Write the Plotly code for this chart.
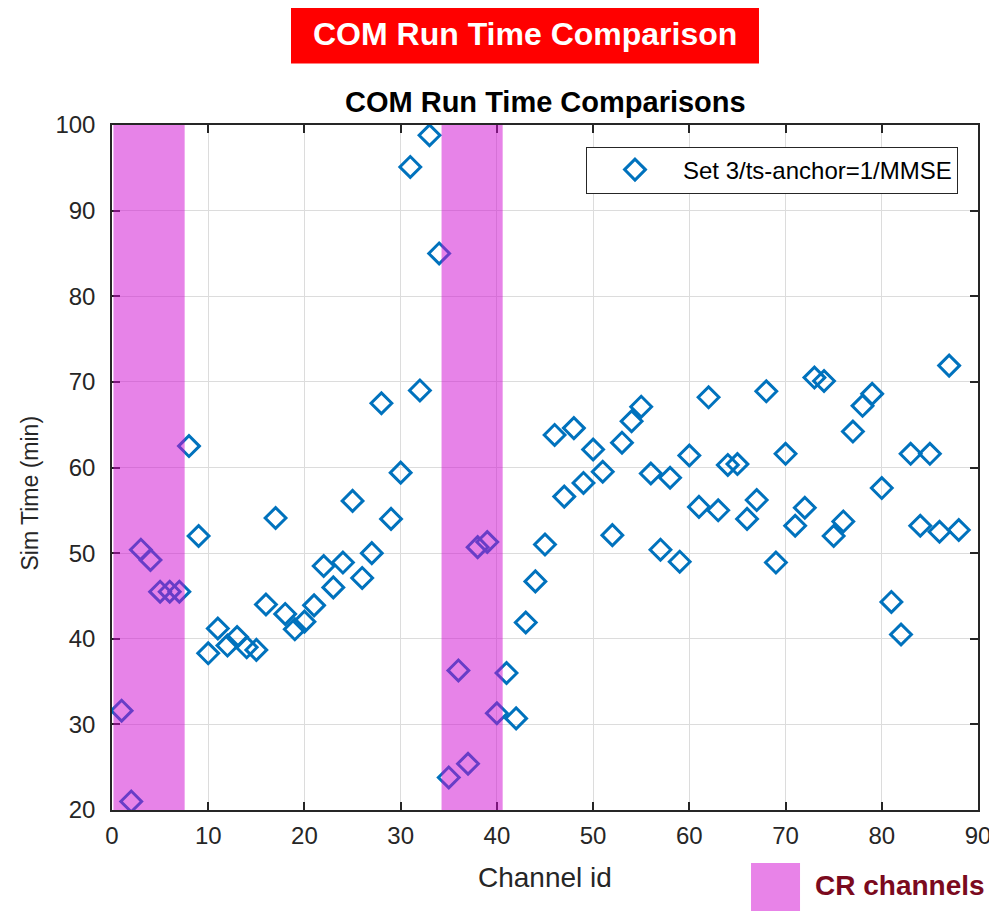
import plotly.graph_objects as go

# ---- data ----
channel_ids = list(range(1, 89))
sim_time_min = [
    31.6, 21.0, 50.4, 49.2, 45.5, 45.5, 45.5, 62.5, 52.0, 38.3,
    41.2, 39.2, 40.2, 39.0, 38.7, 44.0, 54.1, 42.9, 41.1, 42.0,
    43.9, 48.5, 46.0, 48.9, 56.1, 47.1, 50.0, 67.5, 54.0, 59.4,
    95.1, 69.0, 98.8, 85.0, 23.8, 36.3, 25.4, 50.7, 51.3, 31.3,
    36.0, 30.7, 41.9, 46.7, 51.0, 63.8, 56.6, 64.6, 58.2, 62.1,
    59.5, 52.1, 62.9, 65.4, 67.1, 59.3, 50.4, 58.8, 49.0, 61.4,
    55.4, 68.2, 55.0, 60.3, 60.4, 54.0, 56.2, 68.9, 48.9, 61.6,
    53.2, 55.3, 70.5, 70.1, 52.0, 53.7, 64.2, 67.2, 68.6, 57.6,
    44.3, 40.5, 61.6, 53.2, 61.6, 52.5, 71.9, 52.7,
]
cr_bands = [(0.15, 7.55), (34.25, 40.6)]
series_name = "Set 3/ts-anchor=1/MMSE"
x_ticks = list(range(0, 91, 10))
y_ticks = list(range(20, 101, 10))

FONT = "Arial, Liberation Sans, sans-serif"
AX = "#262626"
BAND = "rgba(208,8,210,0.5)"

fig = go.Figure()
fig.add_trace(go.Scatter(
    x=channel_ids, y=sim_time_min, mode="markers",
    name=series_name,
    marker=dict(symbol="diamond-open", size=16, color="#0072BD",
                line=dict(width=3, color="#0072BD")),
))

for x0, x1 in cr_bands:
    fig.add_shape(type="rect", xref="x", yref="paper", x0=x0, x1=x1, y0=0, y1=1,
                  fillcolor=BAND, line=dict(width=0), layer="above")

# banner
fig.add_shape(type="rect", xref="paper", yref="paper",
              x0=0.2067, x1=0.7471, y0=1.0897, y1=1.1758,
              fillcolor="#FF0000", line=dict(width=0))
fig.add_annotation(xref="paper", yref="paper", x=0.4769, y=1.1327,
                   text="<b>COM Run Time Comparison</b>", showarrow=False,
                   xanchor="center", yanchor="middle",
                   font=dict(family=FONT, size=32, color="white"))
# subtitle
fig.add_annotation(xref="paper", yref="paper", x=0.5, y=1.0343,
                   text="<b>COM Run Time Comparisons</b>", showarrow=False,
                   xanchor="center", yanchor="middle",
                   font=dict(family=FONT, size=29, color="black"))
# axis titles
fig.add_annotation(xref="paper", yref="paper", x=-0.095, y=0.463,
                   text="Sim Time (min)", showarrow=False, textangle=-90,
                   xanchor="center", yanchor="middle",
                   font=dict(family=FONT, size=23, color=AX))
fig.add_annotation(xref="paper", yref="paper", x=0.5, y=-0.0992,
                   text="Channel id", showarrow=False,
                   xanchor="center", yanchor="middle",
                   font=dict(family=FONT, size=28, color=AX))
# CR channels key
fig.add_shape(type="rect", xref="paper", yref="paper",
              x0=0.7379, x1=0.7945, y0=-0.1473, y1=-0.0773,
              fillcolor="rgb(232,131,232)", line=dict(width=0))
fig.add_annotation(xref="paper", yref="paper", x=0.8095, y=-0.1109,
                   text="<b>CR channels</b>", showarrow=False,
                   xanchor="left", yanchor="middle",
                   font=dict(family=FONT, size=28, color="#7B0A1E"))

axis_common = dict(
    showline=True, linecolor=AX, linewidth=1.5, mirror="ticks",
    ticks="inside", ticklen=8, tickwidth=1.5, tickcolor=AX,
    showgrid=True, gridcolor="#DCDCDC", gridwidth=1, zeroline=False,
    tickfont=dict(family=FONT, size=24, color=AX), automargin=False,
)
fig.update_xaxes(range=[0, 90], tickvals=x_ticks, ticklabelstandoff=3, **axis_common)
fig.update_yaxes(range=[20, 100], tickvals=y_ticks, ticklabelstandoff=10, **axis_common)

# the page body adds an 8px offset, so the figure is sized/margined to compensate
fig.update_layout(
    width=989, height=904,
    margin=dict(l=104, r=19, t=117, b=102, autoexpand=False),
    plot_bgcolor="white", paper_bgcolor="white",
    showlegend=True,
    legend=dict(x=0.9769, y=0.9686, xanchor="right", yanchor="top",
                bgcolor="white", bordercolor=AX, borderwidth=1, itemwidth=86,
                font=dict(family=FONT, size=24, color="black")),
)

fig.write_html("out.html")
